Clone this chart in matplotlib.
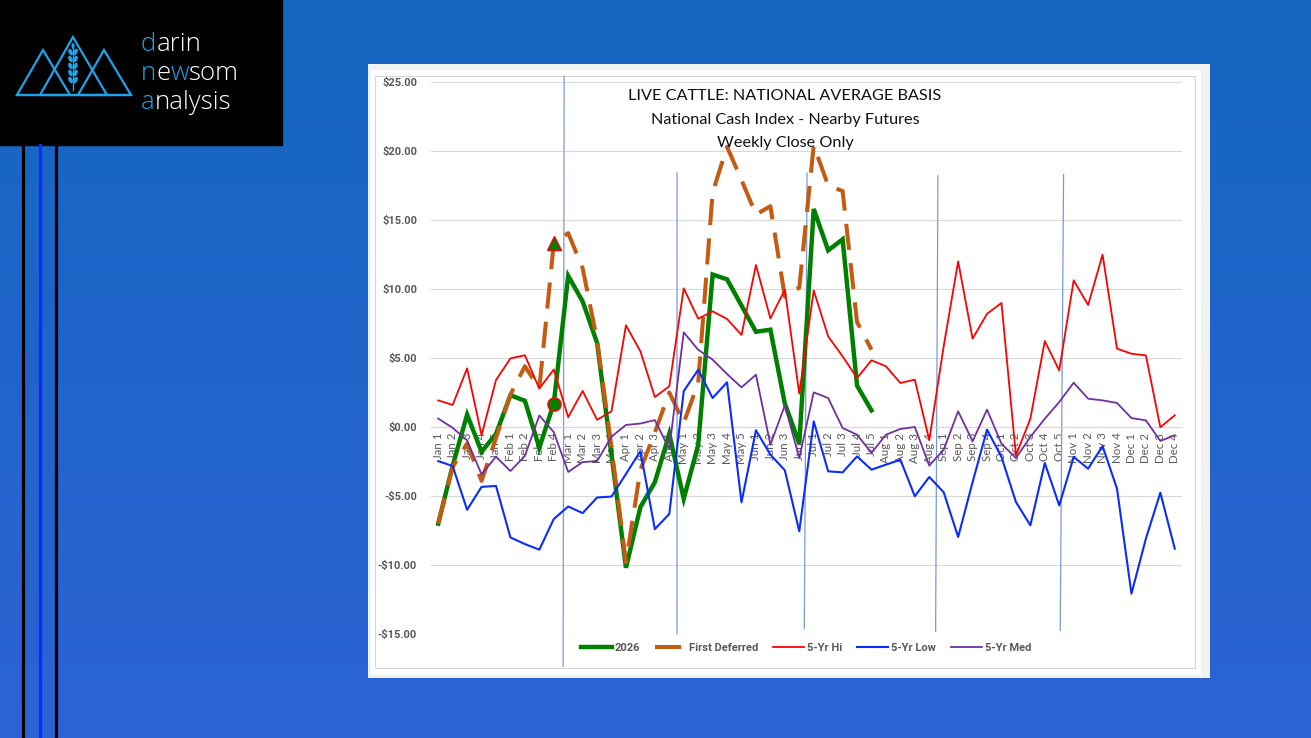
import numpy as np
import matplotlib
matplotlib.use("Agg")
import matplotlib.pyplot as plt
from matplotlib.patches import Rectangle, Polygon, Ellipse
from matplotlib.lines import Line2D

plt.rcParams['font.family'] = ['Lato', 'DejaVu Sans']

# ---------------- data ----------------
weeks = ["Jan 1", "Jan 2", "Jan 3", "Jan 4", "Jan 5", "Feb 1", "Feb 2", "Feb 3", "Feb 4",
         "Mar 1", "Mar 2", "Mar 3", "Mar 4", "Apr 1", "Apr 2", "Apr 3", "Apr 4",
         "May 1", "May 2", "May 3", "May 4", "May 5", "Jun 1", "Jun 2", "Jun 3", "Jun 4",
         "Jul 1", "Jul 2", "Jul 3", "Jul 4", "Jul 5", "Aug 1", "Aug 2", "Aug 3", "Aug 4",
         "Sep 1", "Sep 2", "Sep 3", "Sep 4", "Oct 1", "Oct 2", "Oct 3", "Oct 4", "Oct 5",
         "Nov 1", "Nov 2", "Nov 3", "Nov 4", "Dec 1", "Dec 2", "Dec 3", "Dec 4"]

basis_2026 = [-7.0, -2.8, 0.9, -1.8, -0.5, 2.3, 1.9, -1.5, 1.7,
              10.95, 9.1, 6.1, -2.0, -10.2, -5.8, -4.0, -0.5,
              -5.2, -1.3, 11.05, 10.7, 8.8, 6.9, 7.05, 1.7, -1.2,
              15.8, 12.8, 13.6, 3.0, 1.2]

first_deferred = [-7.0, -2.9, -1.2, -3.9, -0.8, 2.35, 4.4, 2.8, 13.3,
                  14.05, 11.5, 6.3, -1.5, -9.8, -3.1, -0.4, 2.5,
                  0.3, 3.2, 17.0, 20.3, 17.9, 15.4, 16.0, 9.45, 10.1,
                  20.4, 17.5, 17.1, 7.6, 5.6]

yr5_hi = [1.93, 1.6, 4.25, -0.6, 3.4, 4.97, 5.2, 2.78, 4.17,
          0.71, 2.61, 0.52, 1.14, 7.37, 5.48, 2.17, 2.95,
          10.05, 7.85, 8.38, 7.83, 6.67, 11.74, 7.87, 9.95, 2.42,
          9.9, 6.57, 5.12, 3.55, 4.83, 4.40, 3.19, 3.43, -0.95,
          5.85, 12.0, 6.4, 8.2, 8.99, -2.05, 0.6, 6.23, 4.1,
          10.63, 8.84, 12.49, 5.68, 5.31, 5.19, -0.02, 0.85]

yr5_low = [-2.47, -2.83, -6.0, -4.34, -4.27, -8.0, -8.48, -8.89, -6.67,
           -5.76, -6.24, -5.11, -5.04, -3.4, -1.75, -7.4, -6.3,
           2.6, 4.15, 2.1, 3.24, -5.46, -0.24, -2.0, -3.14, -7.56,
           0.41, -3.21, -3.29, -2.13, -3.09, -2.73, -2.37, -5.02, -3.62,
           -4.73, -7.97, -4.0, -0.19, -2.17, -5.43, -7.13, -2.61, -5.68,
           -2.17, -3.02, -1.38, -4.47, -12.08, -8.09, -4.76, -8.82]

yr5_med = [0.61, -0.06, -0.97, -3.43, -2.15, -3.19, -2.1, 0.83, -0.37,
           -3.26, -2.54, -2.47, -0.7, 0.15, 0.25, 0.5, -1.6,
           6.86, 5.60, 4.88, 3.84, 2.87, 3.79, -1.28, 1.57, -2.25,
           2.51, 2.10, -0.07, -0.56, -1.88, -0.56, -0.14, 0.0, -2.80,
           -1.64, 1.14, -1.04, 1.26, -1.21, -2.25, -0.72, 0.60, 1.81,
           3.21, 2.05, 1.93, 1.74, 0.65, 0.48, -1.01, -0.6]

y_ticks = [25, 20, 15, 10, 5, 0, -5, -10, -15]

# annotation dividers drawn on the chart (x in category units, y range in $)
dividers = [((8.72, 25.4), (8.65, -17.35)),
            ((16.54, 18.4), (16.53, -15.0)),
            ((25.54, 18.4), (25.35, -14.6)),
            ((34.6, 18.2), (34.44, -14.8)),
            ((43.3, 18.3), (43.07, -14.75))]

# ---------------- figure / background ----------------
W, H = 1311, 738
fig = plt.figure(figsize=(W / 100, H / 100), dpi=100)

bg = fig.add_axes([0, 0, 1, 1], zorder=-10)
grad = np.linspace(0, 1, 256).reshape(-1, 1, 1)
c_top = np.array([20, 102, 192]) / 255
c_bot = np.array([45, 99, 212]) / 255
img = c_top + (c_bot - c_top) * grad
bg.imshow(img, extent=(0, W, H, 0), aspect='auto')
bg.set_xlim(0, W)
bg.set_ylim(H, 0)
bg.axis('off')

# logo box
bg.add_patch(Rectangle((0, 0), 282, 145, color='black'))
logo_blue = '#1ea3ea'
for tri in [[(17, 95), (43, 50), (70, 95)], [(40, 95), (73, 37), (107, 95)], [(78, 95), (104, 50), (131, 95)]]:
    bg.add_patch(Polygon(tri, closed=True, fill=False, ec=logo_blue, lw=1.6))
bg.plot([17, 131], [95, 95], color=logo_blue, lw=1.6)
bg.plot([73, 73], [44, 90], color=logo_blue, lw=1.0)
for yy in [52, 59, 66, 73, 80]:
    bg.add_patch(Ellipse((70.5, yy), 4, 7, angle=-25, fc=logo_blue, ec='none'))
    bg.add_patch(Ellipse((75.5, yy), 4, 7, angle=25, fc=logo_blue, ec='none'))
bg.add_patch(Ellipse((73, 46), 3, 6, fc=logo_blue, ec='none'))


def colored_word(x, y, parts, size=18.5):
    prev = None
    for txt, col in parts:
        if prev is None:
            prev = bg.text(x, y, txt, color=col, fontsize=size, ha='left', va='bottom',
                           family=['Open Sans', 'DejaVu Sans'], fontweight='light')
        else:
            prev = bg.annotate(txt, xy=(1, 0), xycoords=prev, color=col, fontsize=size,
                               ha='left', va='bottom', family=['Open Sans', 'DejaVu Sans'],
                               fontweight='light')


colored_word(141, 57, [('d', logo_blue), ('arin', 'white')])
colored_word(141, 86, [('n', logo_blue), ('e', 'white'), ('w', logo_blue), ('som', 'white')])
colored_word(141, 115, [('a', logo_blue), ('nalysis', 'white')])

# left vertical stripes
bg.plot([23, 23], [145, H], color='black', lw=2.3)
bg.plot([39.5, 39.5], [145, H], color='#0a2cff', lw=2.3)
bg.plot([55.5, 55.5], [145, H], color='black', lw=2.3)

# chart frame
bg.add_patch(Rectangle((368, 64), 842, 614, fc='#f2f2f2', ec='none'))
bg.add_patch(Rectangle((371, 70), 830, 605, fc='white', ec='none'))
bg.add_patch(Rectangle((375, 76), 820, 592, fill=False, ec='#d6d6d6', lw=0.8))

# ---------------- main chart ----------------
ax = fig.add_axes([431 / W, 1 - 634 / H, (1182 - 431) / W, (634 - 82) / H])
ax.set_facecolor('none')
x_all = np.arange(len(weeks))

ax.set_xlim(-0.5, len(weeks) - 0.5)
ax.set_ylim(-15, 25)
ax.set_yticks(y_ticks)
ax.set_yticklabels([("-$%.2f" % abs(v)) if v < 0 else ("$%.2f" % v) for v in y_ticks],
                   fontsize=8.0, fontweight='bold', color='#595959',
                   family=['Roboto', 'DejaVu Sans'])
ax.tick_params(axis='y', length=0, pad=10)
ax.grid(axis='y', color='#d9d9d9', lw=0.8)
ax.set_axisbelow(True)
for s in ['left', 'right', 'top']:
    ax.spines[s].set_visible(False)
ax.spines['bottom'].set_position(('data', 0))
ax.spines['bottom'].set_color('#d9d9d9')
ax.spines['bottom'].set_linewidth(0.8)
ax.set_xticks(x_all)
ax.set_xticklabels(weeks, rotation=90, fontsize=8.3, color='#595959', va='top', ha='center')
ax.tick_params(axis='x', length=0, pad=4)

for (x0, y0), (x1, y1) in dividers:
    ax.plot([x0, x1], [y0, y1], color='#7a9ad6', lw=0.9, clip_on=False, zorder=1)

l_green, = ax.plot(np.arange(len(basis_2026)), basis_2026, color='#008000', lw=3.2,
                   solid_joinstyle='miter', zorder=3, label='2026')
l_orange, = ax.plot(np.arange(len(first_deferred)), first_deferred, color='#c55a11', lw=2.9,
                    dashes=(6.5, 3.3), zorder=4, label='First Deferred')
l_red, = ax.plot(x_all, yr5_hi, color='#ff0000', lw=1.3, zorder=5, label='5-Yr Hi')
l_blue, = ax.plot(x_all, yr5_low, color='#0a2cff', lw=1.5, zorder=5, label='5-Yr Low')
l_purple, = ax.plot(x_all, yr5_med, color='#7030a0', lw=1.3, zorder=5, label='5-Yr Med')

# markers at Feb 4
ax.plot([8], [first_deferred[8]], marker='^', ms=10, mfc='#008000', mec='#ff0000', mew=1.0,
        zorder=6, linestyle='none')
ax.plot([8], [basis_2026[8]], marker='o', ms=9.5, mfc='#008000', mec='#ff0000', mew=1.0,
        zorder=6, linestyle='none')

# title
for txt, yy in [("LIVE CATTLE: NATIONAL AVERAGE BASIS", 96.5),
                ("National Cash Index - Nearby Futures", 120),
                ("Weekly Close Only", 143)]:
    fig.text(785 / W, 1 - yy / H, txt, ha='center', va='center', fontsize=11.7, color='#111111')

# legend
leg = fig.legend(handles=[l_green, l_orange, l_red, l_blue, l_purple],
                 loc='center', bbox_to_anchor=(806 / W, 1 - 648 / H), ncol=5, frameon=False,
                 handlelength=2.8, handletextpad=0.25, columnspacing=1.35,
                 prop={'size': 8.0, 'weight': 'bold', 'family': ['Roboto', 'DejaVu Sans']})
for t in leg.get_texts():
    t.set_color('#595959')

fig.savefig('out.png', dpi=100)
